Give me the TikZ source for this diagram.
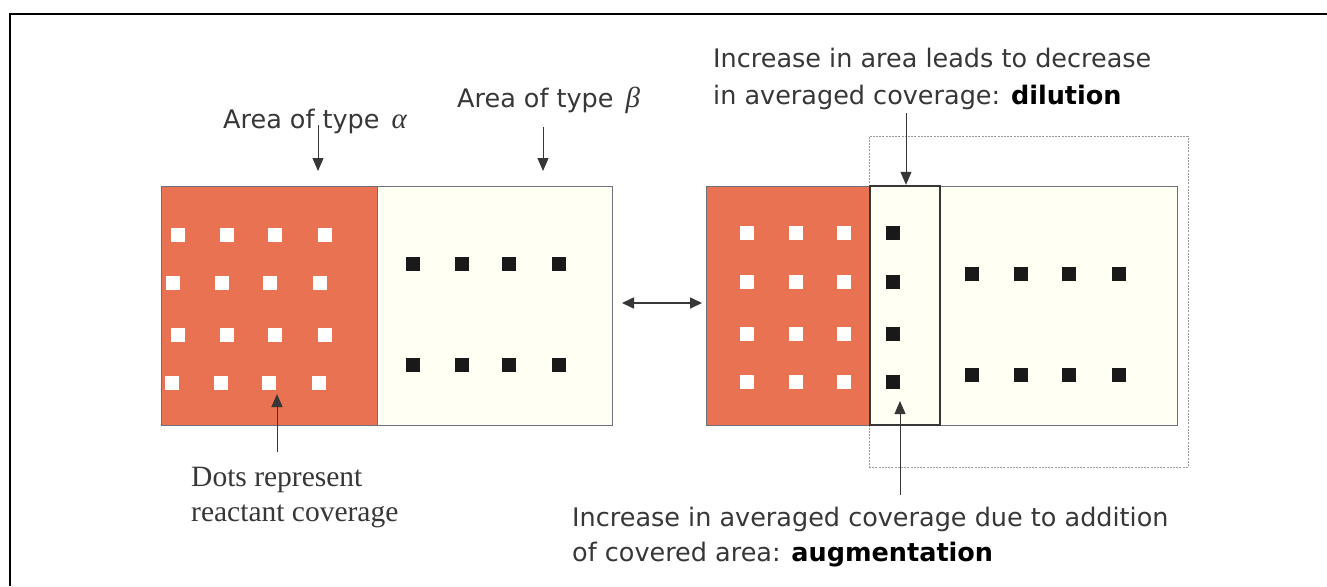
\documentclass[tikz,border=0pt]{standalone}
\usepackage{fontspec}
\usetikzlibrary{arrows.meta}
\newfontfamily\labelsans{DejaVu Sans}
\newfontfamily\labelserif{Liberation Serif}

\definecolor{alphafill}{RGB}{232,114,82}
\definecolor{betafill}{RGB}{255,255,244}
\definecolor{edgegray}{RGB}{110,110,125}
\definecolor{inkgray}{RGB}{55,55,55}
\definecolor{dotblack}{RGB}{25,25,25}

\tikzset{
  area/.style={draw=edgegray, line width=0.9pt, minimum height=239pt, inner sep=0pt, outer sep=0pt},
  alphaarea/.style={area, fill=alphafill},
  betaarea/.style={area, fill=betafill},
  added/.style={draw=inkgray, line width=2.4pt, fill=none, minimum height=239pt, minimum width=70pt, inner sep=0pt},
  region/.style={draw=gray!80, dash pattern=on 2pt off 1.2pt, line width=0.9pt, minimum width=319pt, minimum height=331pt, inner sep=0pt},
  sanslabel/.style={font=\labelsans\fontsize{25.5}{36}\selectfont, text=inkgray, align=left, inner sep=0pt, anchor=base west},
  seriflabel/.style={font=\labelserif\fontsize{29.5}{35}\selectfont, text=inkgray, align=left, inner sep=0pt, anchor=base west},
  pointer/.style={draw=inkgray, line width=1pt, -{Triangle[length=13pt,width=11pt]}},
  exchange/.style={draw=inkgray, line width=1.6pt, {Triangle[length=12pt,width=11pt]}-{Triangle[length=12pt,width=11pt]}},
  whitesq/.style={fill=white},
  blacksq/.style={fill=dotblack}
}
\newcommand{\sq}[3]{\fill[#1] (#2-7,#3-7) rectangle ++(14,14);}
\newcommand{\greekletter}[1]{\hspace{4pt}{\labelserif\itshape\fontsize{29}{34}\selectfont #1}}

\begin{document}
\begin{tikzpicture}[x=1pt,y=-1pt]
\useasboundingbox (0,0) rectangle (1327,586);
\fill[white] (0,0) rectangle (1327,586);

% outer frame
\draw[black, line width=2.4pt] (10,586) -- (10,14) -- (1327,14);

% left configuration
\node[alphaarea, minimum width=216pt] (alphaL) at (269,305.5) {};
\node[betaarea, minimum width=235pt] (betaL) at (494.5,305.5) {};

% right configuration
\node[region] (zone) at (1028.5,301.5) {};
\node[alphaarea, minimum width=164pt] (alphaR) at (788,305.5) {};
\node[betaarea, minimum width=307pt] (betaR) at (1023.5,305.5) {};

% reactant dots, left configuration
\foreach \y/\s in {235/0,283/5,335/0,383/6}{
  \foreach \x in {178,227,275,325}{ \sq{whitesq}{\x-\s}{\y} }
}
\foreach \y in {264,365}{
  \foreach \x in {413,462,509,559}{ \sq{blacksq}{\x}{\y} }
}

% reactant dots, right configuration
\foreach \y in {233,282,334,382}{
  \foreach \x in {747,796,844}{ \sq{whitesq}{\x}{\y} }
  \sq{blacksq}{893}{\y}
}
\foreach \y in {274,375}{
  \foreach \x in {972,1021,1069,1119}{ \sq{blacksq}{\x}{\y} }
}

% added strip
\node[added] (strip) at (905,305.5) {};

% labels (multi-line labels are anchored on their last baseline)
\node[sanslabel] (labA) at (223,128) {Area of type \greekletter{α}};
\node[sanslabel] (labB) at (457,107) {Area of type \greekletter{β}};
\node[sanslabel, font=\labelsans\fontsize{25.5}{37}\selectfont] (labDil) at (713,104) {Increase in area leads to decrease\\in averaged coverage: {\color{black}\bfseries dilution}};
\node[sanslabel, font=\labelsans\fontsize{25.5}{34.5}\selectfont] (labAug) at (572,561) {Increase in averaged coverage due to addition\\of covered area: {\color{black}\bfseries augmentation}};
\node[seriflabel] (labDots) at (191,521) {Dots represent\\reactant coverage};

% arrow end points
\coordinate (aTop) at (318,125);
\coordinate (aTip) at (318,171);
\coordinate (bTop) at (543,127);
\coordinate (bTip) at (543,171);
\coordinate (dilTop) at (906,113);
\coordinate (dotTail) at (277,452);
\coordinate (dotTip) at (277,394);
\coordinate (augTail) at (900,495);
\coordinate (augTip) at (900,401);

% connectors
\draw[pointer] (aTop) -- (aTip);
\draw[pointer] (bTop) -- (bTip);
\draw[pointer] (dilTop) -- (dilTop |- strip.north);
\draw[pointer] (dotTail) -- (dotTip);
\draw[pointer] (augTail) -- (augTip);
\draw[exchange, shorten <=10pt, shorten >=4pt] ([yshift=2.5pt]betaL.east) -- ([yshift=2.5pt]alphaR.west);
\end{tikzpicture}
\end{document}
